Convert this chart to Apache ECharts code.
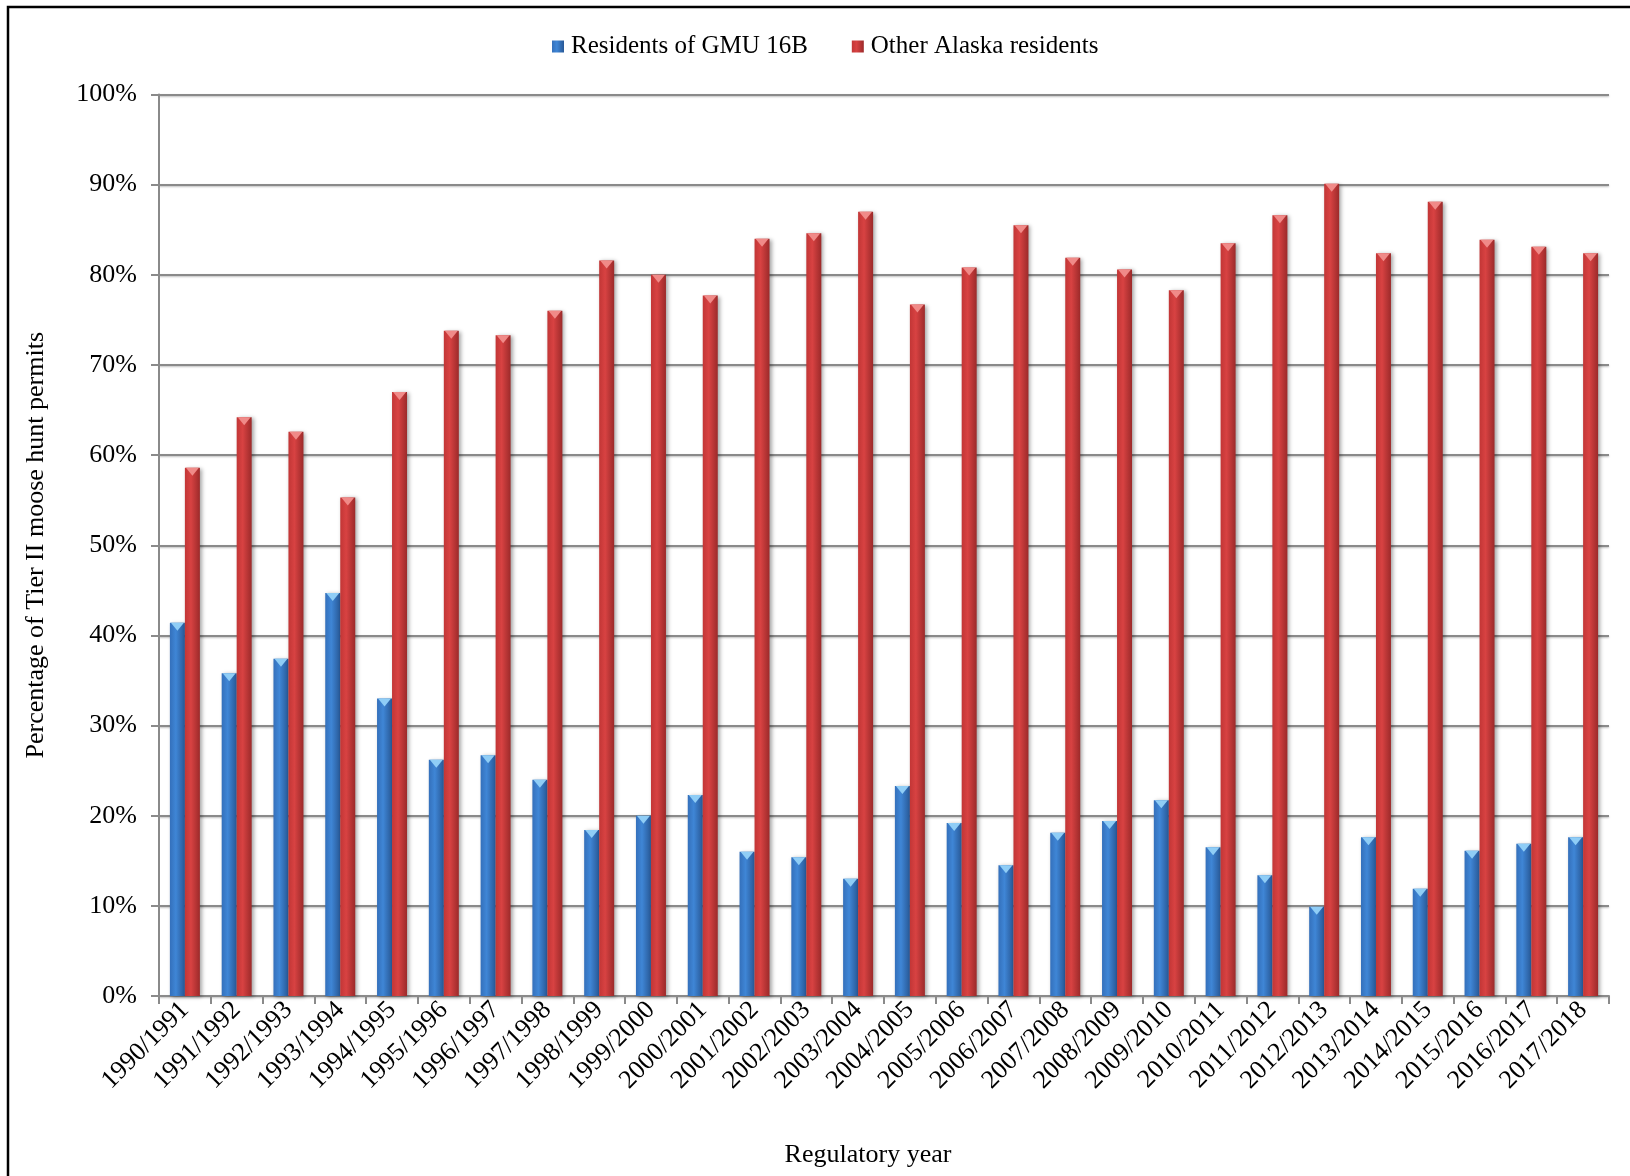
<!DOCTYPE html>
<html>
<head>
<meta charset="utf-8">
<style>
  html, body { margin: 0; padding: 0; background: #ffffff; }
  #chart { width: 1630px; height: 1176px; }
</style>
<script src="https://cdn.jsdelivr.net/npm/echarts@6/dist/echarts.min.js"></script>
</head>
<body>
<div id="chart"></div>
<script>
// Regulatory years (x-axis categories)
const years = [
  '1990/1991', '1991/1992', '1992/1993', '1993/1994', '1994/1995', '1995/1996',
  '1996/1997', '1997/1998', '1998/1999', '1999/2000', '2000/2001', '2001/2002',
  '2002/2003', '2003/2004', '2004/2005', '2005/2006', '2006/2007', '2007/2008',
  '2008/2009', '2009/2010', '2010/2011', '2011/2012', '2012/2013', '2013/2014',
  '2014/2015', '2015/2016', '2016/2017', '2017/2018'
];

// Share of Tier II moose hunt permits (%)
const gmu16bResidents = [
  41.4, 35.8, 37.4, 44.7, 33.0, 26.2, 26.7, 24.0, 18.4, 20.0, 22.3, 16.0, 15.4, 13.0,
  23.3, 19.2, 14.5, 18.1, 19.4, 21.7, 16.5, 13.4, 9.9, 17.6, 11.9, 16.1, 16.9, 17.6
];
const otherAlaskaResidents = [
  58.6, 64.2, 62.6, 55.3, 67.0, 73.8, 73.3, 76.0, 81.6, 80.0, 77.7, 84.0, 84.6, 87.0,
  76.7, 80.8, 85.5, 81.9, 80.6, 78.3, 83.5, 86.6, 90.1, 82.4, 88.1, 83.9, 83.1, 82.4
];

// Y-axis tick values (%)
const yTicks = [0, 10, 20, 30, 40, 50, 60, 70, 80, 90, 100];

const SERIF = '"Liberation Serif", "Times New Roman", "DejaVu Serif", serif';
const FONT_SIZE = 26;
const BAR_W = 15;

function barGradient(c0, c1, c2) {
  return new echarts.graphic.LinearGradient(0, 0, 1, 0, [
    { offset: 0, color: c0 },
    { offset: 0.4, color: c1 },
    { offset: 1, color: c2 }
  ]);
}
const blueFill = barGradient('#3470bb', '#3f86d6', '#285896');
const redFill = barGradient('#c23636', '#d84242', '#9c2a2a');

const chart = echarts.init(document.getElementById('chart'), null, { renderer: 'canvas' });

const barShadow = {
  shadowColor: 'rgba(0,0,0,0.35)',
  shadowBlur: 4,
  shadowOffsetX: 2,
  shadowOffsetY: 1
};

chart.setOption({
  backgroundColor: '#ffffff',
  animation: false,
  textStyle: { fontFamily: SERIF, color: '#000000' },
  graphic: [{
    type: 'rect',
    shape: { x: 8, y: 7, width: 1700, height: 1300 },
    style: { fill: 'none', stroke: '#000000', lineWidth: 2.5 },
    silent: true,
    z: 100
  }],
  legend: {
    data: ['Residents of GMU 16B', 'Other Alaska residents'],
    top: 29,
    left: 547,
    icon: 'rect',
    itemWidth: 12,
    itemHeight: 12,
    itemGap: 44,
    textStyle: { fontFamily: SERIF, fontSize: 25, color: '#000000', padding: [0, 0, 0, 2] }
  },
  grid: {
    left: 159,
    right: 21,
    top: 94.5,
    bottom: 180,
    containLabel: false
  },
  xAxis: {
    type: 'category',
    data: years,
    boundaryGap: true,
    name: 'Regulatory year',
    nameLocation: 'middle',
    nameGap: 146,
    nameTextStyle: { fontFamily: SERIF, fontSize: FONT_SIZE, color: '#000000', padding: [0, 32, 0, 0] },
    axisLine: { lineStyle: { color: '#8a8a8a', width: 2 } },
    axisTick: { show: true, inside: false, length: 8, lineStyle: { color: '#8a8a8a', width: 2 } },
    axisLabel: {
      rotate: 45,
      interval: 0,
      margin: 10,
      fontFamily: SERIF,
      fontSize: FONT_SIZE,
      color: '#000000'
    }
  },
  yAxis: {
    type: 'value',
    min: yTicks[0],
    max: yTicks[yTicks.length - 1],
    interval: yTicks[1] - yTicks[0],
    name: 'Percentage of Tier II moose hunt permits',
    nameLocation: 'middle',
    nameGap: 110,
    nameRotate: 90,
    nameTextStyle: { fontFamily: SERIF, fontSize: FONT_SIZE, color: '#000000' },
    axisLine: { show: true, lineStyle: { color: '#8a8a8a', width: 2 } },
    axisTick: { show: true, inside: false, length: 8, lineStyle: { color: '#8a8a8a', width: 2 } },
    axisLabel: {
      margin: 22,
      fontFamily: SERIF,
      fontSize: FONT_SIZE,
      color: '#000000',
      formatter: v => v + '%'
    },
    splitLine: {
      show: true,
      lineStyle: {
        color: '#8a8a8a',
        width: 2,
        shadowColor: 'rgba(0,0,0,0.25)',
        shadowBlur: 2,
        shadowOffsetY: 1
      }
    }
  },
  series: [
    {
      name: 'Residents of GMU 16B',
      type: 'bar',
      data: gmu16bResidents,
      barWidth: BAR_W,
      barGap: '0%',
      itemStyle: Object.assign({ color: blueFill }, barShadow),
      z: 2
    },
    {
      name: 'Other Alaska residents',
      type: 'bar',
      data: otherAlaskaResidents,
      barWidth: BAR_W,
      barGap: '0%',
      itemStyle: Object.assign({ color: redFill }, barShadow),
      z: 2
    },
    // Bevelled caps on the bar tops
    {
      name: 'GMU 16B cap',
      type: 'pictorialBar',
      data: gmu16bResidents,
      barWidth: BAR_W,
      barGap: '0%',
      symbol: 'triangle',
      symbolRotate: 180,
      symbolSize: [BAR_W - 2, 8],
      symbolPosition: 'end',
      symbolOffset: [0, 0],
      itemStyle: { color: '#8fcdf6' },
      silent: true,
      z: 3
    },
    {
      name: 'Other Alaska cap',
      type: 'pictorialBar',
      data: otherAlaskaResidents,
      barWidth: BAR_W,
      barGap: '0%',
      symbol: 'triangle',
      symbolRotate: 180,
      symbolSize: [BAR_W - 2, 8],
      symbolPosition: 'end',
      symbolOffset: [0, 0],
      itemStyle: { color: '#f08a88' },
      silent: true,
      z: 3
    }
  ]
});
</script>
</body>
</html>
